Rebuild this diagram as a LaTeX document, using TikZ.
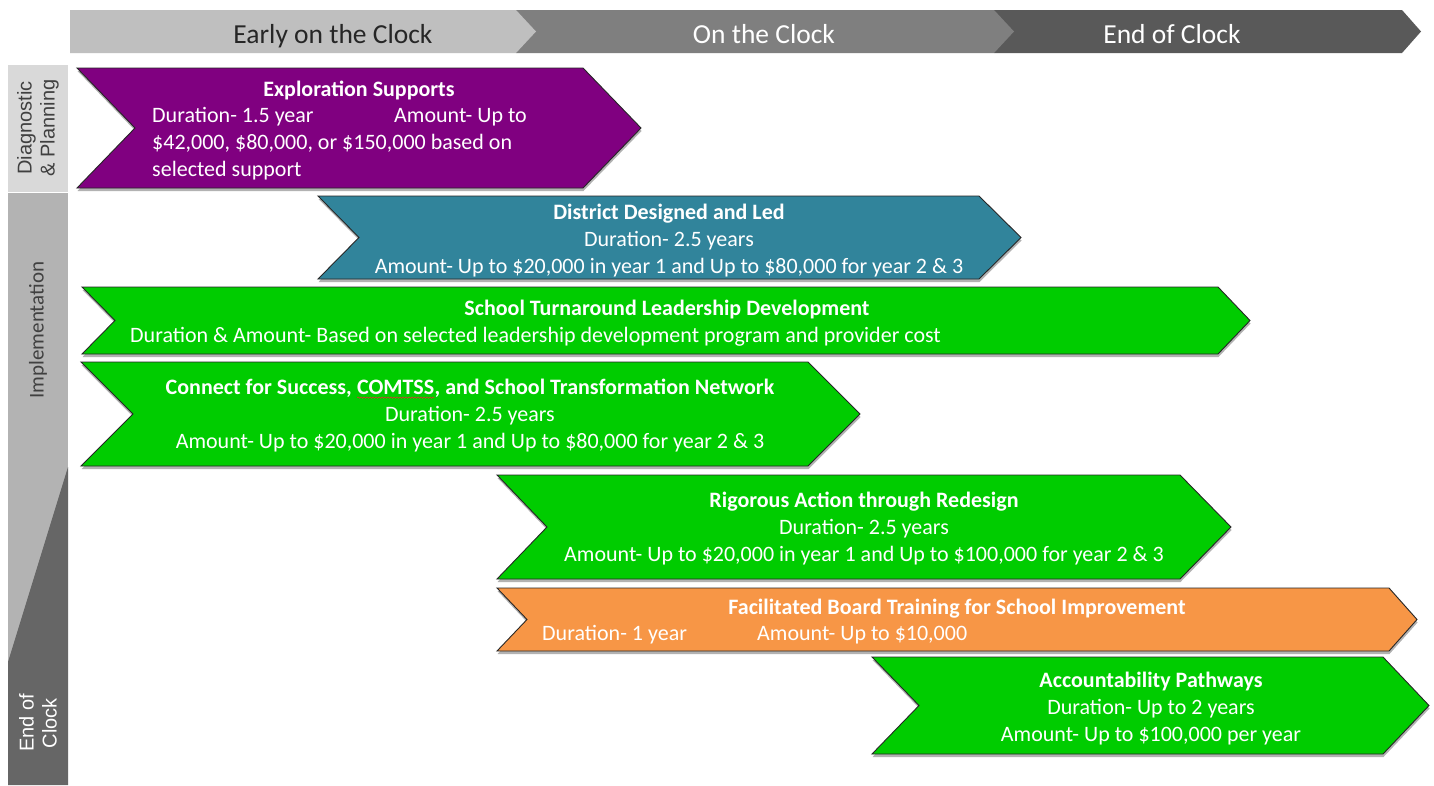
\documentclass[tikz,border=0pt]{standalone}
\usepackage{fontspec}
\setmainfont{Carlito}
\newfontfamily\arialf{Liberation Sans}
\usetikzlibrary{shadows,decorations.pathmorphing}
\definecolor{hdlight}{HTML}{BFBFBF}
\definecolor{hdmid}{HTML}{7F7F7F}
\definecolor{hddark}{HTML}{595959}
\definecolor{sidediag}{HTML}{D9D9D9}
\definecolor{sideimpl}{HTML}{B3B3B3}
\definecolor{sideend}{HTML}{666666}
\definecolor{sidetext}{HTML}{404040}
\definecolor{cpurple}{HTML}{800080}
\definecolor{cteal}{HTML}{31849B}
\definecolor{cgreen}{HTML}{00CC00}
\definecolor{corange}{HTML}{F79646}
\definecolor{spellred}{HTML}{E03030}
\newcommand\chevshape[7]{%
  \path[chev,fill=#7] (#1,#2) -- (#3,#2) -- ({#3+#6},{(#2+#4)/2}) -- (#3,#4) -- (#1,#4) -- ({#1+#5},{(#2+#4)/2}) -- cycle;}
\begin{document}
\begin{tikzpicture}[x=1pt,y=-1pt,
  chev/.style={draw=black!85,line width=0.9pt,line join=miter,
    drop shadow={shadow xshift=0.5pt,shadow yshift=-3pt,opacity=0.3,fill=black}},
  hdtext/.style={font=\fontsize{27.5}{30}\selectfont,inner sep=0pt,anchor=base},
  body/.style={text=white,font=\fontsize{22}{27}\selectfont,inner sep=0pt},
  bodyc/.style={body,align=center},
  bodyl/.style={body,align=left,anchor=west},
  sidelbl/.style={rotate=90,align=center,inner sep=0pt}]
\useasboundingbox (0,0) rectangle (1434,785);
\fill[white] (0,0) rectangle (1434,785);
% header
\fill[hddark] (994,10) -- (1402,10) -- (1421,31.5) -- (1402,53) -- (994,53) -- cycle;
\fill[hdmid] (516,10) -- (994,10) -- (1014,31.5) -- (994,53) -- (516,53) -- cycle;
\fill[hdlight] (70,10) -- (516,10) -- (536,31.5) -- (516,53) -- (70,53) -- cycle;
\node[hdtext,text=black!85] (h1) at (333,43) {Early on the Clock};
\node[hdtext,text=white] (h2) at (764,43) {On the Clock};
\node[hdtext,text=white] (h3) at (1172,43) {End of Clock};
% side bar
\fill[sidediag] (8,65) rectangle (68,192);
\fill[sideimpl] (8,193) rectangle (68,785);
\fill[sideend] (68,467) -- (68,785) -- (8,785) -- (8,662) -- cycle;
\node[sidelbl,text=sidetext,font=\arialf\fontsize{20}{23}\selectfont] (s1) at (38,128) {Diagnostic\\\& Planning};
\node[sidelbl,text=sidetext,font=\fontsize{21}{24}\selectfont] (s2) at (38,330) {Implementation};
\node[sidelbl,text=white,font=\arialf\fontsize{20}{23}\selectfont] (s3) at (38,723) {End of\\Clock};
% chevrons
\chevshape{77}{68}{583}{188}{58}{58}{cpurple}
\chevshape{318}{196}{979}{279}{41}{42}{cteal}
\chevshape{82}{287}{1218}{354}{33}{32}{cgreen}
\chevshape{81}{362}{808}{466}{52}{52}{cgreen}
\chevshape{497}{475}{1180}{579}{50}{51}{cgreen}
\chevshape{497}{588}{1389}{651}{30}{28}{corange}
\chevshape{872}{657}{1383}{754}{47}{46}{cgreen}
% texts
\node[bodyc] (t1) at (359,90) {\textbf{Exploration Supports}};
\node[bodyl] (b1) at (152,144) {\makebox[242pt][l]{Duration- 1.5 year}Amount- Up to\\ \$42,000, \$80,000, or \$150,000 based on\\ selected support};
\node[bodyc] (t2) at (669,241) {\textbf{District Designed and Led}\\ Duration- 2.5 years\\ Amount- Up to \$20,000 in year 1 and Up to \$80,000 for year 2 \& 3};
\node[bodyc] (t3) at (667,310) {\textbf{School Turnaround Leadership Development}};
\node[bodyl] (b3) at (130,337) {Duration \& Amount- Based on selected leadership development program and provider cost};
\node[bodyc] (t4) at (470,416) {\textbf{Connect for Success, \tikz[baseline=(cw.base)]{\node[inner sep=0pt,outer sep=0pt] (cw) {COMTSS}; \draw[spellred,line width=0.6pt,decorate,decoration={snake,amplitude=0.7pt,segment length=3pt}] ([yshift=-2.5pt]cw.south west) -- ([yshift=-2.5pt]cw.south east);}, and School Transformation Network}\\ Duration- 2.5 years\\ Amount- Up to \$20,000 in year 1 and Up to \$80,000 for year 2 \& 3};
\node[bodyc] (t5) at (864,529) {\textbf{Rigorous Action through Redesign}\\ Duration- 2.5 years\\ Amount- Up to \$20,000 in year 1 and Up to \$100,000 for year 2 \& 3};
\node[bodyc] (t6) at (957,609) {\textbf{Facilitated Board Training for School Improvement}};
\node[bodyl] (b6) at (542,635) {\makebox[215pt][l]{Duration- 1 year}Amount- Up to \$10,000};
\node[bodyc] (t7) at (1151,709) {\textbf{Accountability Pathways}\\ Duration- Up to 2 years\\ Amount- Up to \$100,000 per year};
\end{tikzpicture}
\end{document}
